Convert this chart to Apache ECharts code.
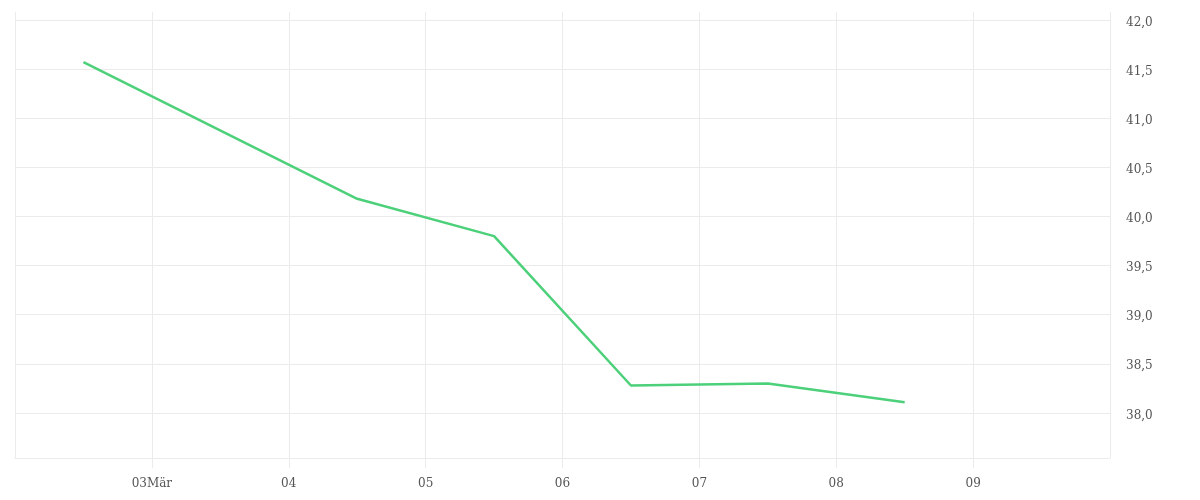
<!DOCTYPE html>
<html>
<head>
<meta charset="utf-8">
<script src="https://cdn.jsdelivr.net/npm/echarts@6/dist/echarts.min.js"></script>
<style>
  html, body { margin: 0; padding: 0; background: #fff; }
  #chart { width: 1200px; height: 500px; }
</style>
</head>
<body>
<div id="chart"></div>
<script>
// days in March (UTC), each point sits at noon
const pointDays = [2, 4, 5, 6, 7, 8];
const values = [41.57, 40.18, 39.8, 38.28, 38.3, 38.11];
const yTicks = [38, 38.5, 39, 39.5, 40, 40.5, 41, 41.5, 42];
const monthName = "Mär";

const DAY = 86400000;
const day = (d, h) => Date.UTC(2021, 2, d, h || 0);

const seriesData = pointDays.map((d, i) => [day(d, 12), values[i]]);

const chart = echarts.init(document.getElementById("chart"));
const gridColor = "#ebebeb";
const labelFont = { fontFamily: "DejaVu Serif", fontSize: 12, color: "#555" };

const option = {
  animation: false,
  grid: { left: 15, right: 90, top: 12, bottom: 42 },
  xAxis: {
    type: "value",
    min: day(2),
    max: day(10),
    interval: DAY,
    axisLine: { show: true, lineStyle: { color: gridColor } },
    axisTick: { show: true, length: 10, lineStyle: { color: gridColor } },
    splitLine: { show: true, lineStyle: { color: gridColor } },
    axisLabel: {
      ...labelFont,
      margin: 20,
      showMinLabel: false,
      showMaxLabel: false,
      formatter: (v) => {
        const d = new Date(v).getUTCDate();
        const s = String(d).padStart(2, "0");
        return d === 3 ? s + monthName : s;
      },
    },
  },
  yAxis: {
    type: "value",
    position: "right",
    min: 37.542,
    max: 42.081,
    axisLine: { show: false },
    axisTick: { show: false, customValues: yTicks },
    splitLine: { show: true, lineStyle: { color: gridColor } },
    axisLabel: {
      ...labelFont,
      margin: 16,
      verticalAlign: "top",
      lineHeight: 5,
      customValues: yTicks,
      formatter: (v) => v.toFixed(1).replace(".", ","),
    },
  },
  series: [
    {
      type: "line",
      data: seriesData,
      showSymbol: false,
      lineStyle: { color: "#4cd07a", width: 2.5 },
      itemStyle: { color: "#4cd07a" },
    },
  ],
};

chart.setOption(option);
</script>
</body>
</html>
